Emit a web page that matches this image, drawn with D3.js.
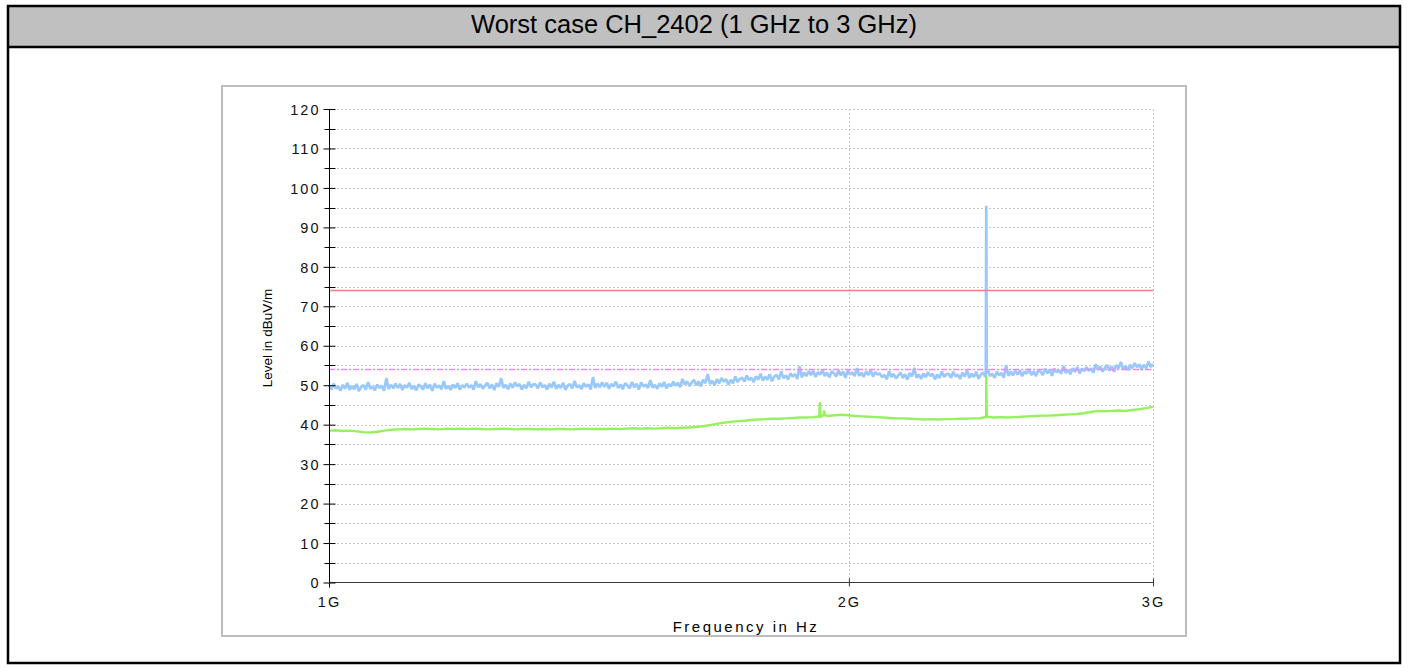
<!DOCTYPE html>
<html>
<head>
<meta charset="utf-8">
<script src="https://cdn.jsdelivr.net/npm/d3@7"></script>
<style>
  html, body { margin: 0; padding: 0; background: #fff; }
  svg { display: block; }
</style>
</head>
<body>
<svg id="chart" width="1408" height="668"></svg>
<script>
// ---------------- DATA ----------------
const chartTitle = "Worst case CH_2402 (1 GHz to 3 GHz)";
const yAxisTitle = "Level in dBuV/m";
const xAxisTitle = "Frequency in Hz";

const sweepStartHz = 1e9;
const sweepStopHz = 3e9;

const yTickValues = [0, 10, 20, 30, 40, 50, 60, 70, 80, 90, 100, 110, 120];
const yMinorTickValues = [5, 15, 25, 35, 45, 55, 65, 75, 85, 95, 105, 115];
const xTickValues = [1e9, 2e9, 3e9];
const xTickLabels = ["1G", "2G", "3G"];

const limitPeak = 74;      // red limit line
const limitAverage = 54;   // magenta dash-dot limit line

// Peak trace (blue), sampled over the sweep
const peakLevels = [
  49.9, 48.9, 50.4, 49.2, 49.7, 48.6, 50.1, 49.1, 50.6, 48.8, 49.8, 49.0, 50.3, 48.5, 49.6, 50.0, 48.9, 50.8, 49.1, 49.7, 48.7, 50.2, 49.3, 49.9, 48.6, 51.8, 49.0, 50.1, 49.2, 50.4,
  49.3, 50.3, 48.8, 50.0, 49.4, 50.6, 49.0, 49.9, 48.7, 50.2, 49.7, 48.9, 50.5, 49.2, 50.1, 48.6, 50.4, 49.4, 49.9, 49.0, 51.0, 49.1, 49.8, 48.8, 50.2, 49.3, 50.5, 48.9, 50.0, 49.4,
  50.4, 49.4, 50.0, 48.9, 51.0, 49.5, 50.3, 49.1, 49.9, 50.6, 49.2, 50.2, 48.8, 50.5, 49.6, 51.8, 49.3, 50.1, 49.0, 50.4, 49.4, 50.7, 49.7, 50.3, 48.9, 50.1, 49.2, 50.9, 49.5, 50.2,
  50.2, 49.2, 50.7, 49.5, 50.0, 48.9, 50.4, 49.4, 50.9, 49.1, 50.1, 49.3, 50.6, 48.8, 49.9, 50.3, 49.2, 51.1, 49.4, 50.0, 49.0, 50.5, 49.6, 50.2, 48.9, 52.1, 49.3, 50.4, 49.5, 50.7,
  49.6, 50.6, 49.1, 50.3, 49.7, 50.9, 49.3, 50.2, 49.0, 50.5, 50.0, 49.2, 50.8, 49.5, 50.4, 48.9, 50.7, 49.7, 50.2, 49.3, 51.3, 49.4, 50.1, 49.1, 50.5, 49.6, 50.8, 49.2, 50.3, 49.7,
  50.9, 49.9, 50.6, 49.5, 51.6, 50.2, 51.0, 49.8, 50.6, 51.4, 50.0, 51.0, 49.7, 51.4, 50.5, 52.8, 50.3, 51.1, 50.0, 51.5, 50.5, 51.8, 50.9, 51.5, 50.1, 51.4, 50.5, 52.2, 50.8, 51.6,
  51.9, 50.9, 52.5, 51.3, 51.9, 50.8, 52.3, 51.4, 52.9, 51.2, 52.2, 51.4, 52.8, 51.0, 52.2, 52.6, 51.5, 53.5, 51.8, 52.5, 51.5, 53.0, 52.2, 52.8, 51.6, 54.8, 52.0, 53.2, 52.3, 53.6,
  52.6, 53.6, 52.1, 53.3, 52.7, 53.9, 52.3, 53.2, 52.0, 53.5, 53.0, 52.2, 53.8, 52.5, 53.4, 51.9, 53.7, 52.7, 53.2, 52.3, 54.3, 52.4, 53.1, 52.1, 53.5, 52.6, 53.8, 52.2, 53.3, 52.7,
  53.0, 52.0, 52.6, 51.5, 53.6, 52.1, 52.9, 51.7, 52.5, 53.2, 51.8, 52.8, 51.4, 53.1, 52.2, 54.4, 51.9, 52.7, 51.6, 53.0, 52.0, 53.3, 52.3, 52.9, 51.5, 52.7, 51.8, 53.5, 52.1, 52.8,
  52.9, 51.9, 53.4, 52.2, 52.7, 51.6, 53.2, 52.2, 53.7, 51.9, 52.9, 52.1, 53.4, 51.6, 52.7, 53.2, 52.1, 54.0, 52.3, 52.9, 51.9, 53.4, 52.5, 53.1, 51.9, 55.1, 52.4, 53.4, 52.5, 53.7,
  52.7, 53.7, 52.3, 53.5, 52.9, 54.1, 52.6, 53.5, 52.3, 53.8, 53.4, 52.6, 54.2, 53.0, 53.9, 52.4, 54.2, 53.3, 53.8, 52.9, 54.9, 53.1, 53.8, 52.8, 54.3, 53.4, 54.6, 53.0, 54.2, 53.6,
  54.6, 53.6, 54.3, 53.2, 55.3, 53.9, 54.7, 53.5, 54.4, 55.1, 53.7, 54.8, 53.4, 55.1, 54.3, 55.9, 54.0, 54.9, 53.8, 55.2, 54.3, 55.6, 54.6, 55.3, 53.9, 55.2, 54.3, 56.0, 54.6, 55.4
];
// Discrete peaks on the blue trace: [frequency Hz, level]
const peakSpikes = [
  [2.4005e9, 52.6], [2.402e9, 95.5], [2.4035e9, 53.0]
];

// Average trace (green), sampled over the sweep
const averageLevels = [
  38.5, 38.6, 38.4, 38.5, 38.3, 38.1, 38.0, 38.2, 38.5, 38.7,
  38.8, 38.9, 38.8, 38.9, 39.0, 38.9, 38.8, 39.0, 38.9, 39.0,
  38.9, 39.0, 38.9, 38.8, 38.9, 39.0, 38.9, 38.8, 38.9, 38.9,
  38.8, 38.9, 38.8, 38.9, 38.9, 38.8, 38.9, 39.0, 38.9, 38.9,
  38.9, 39.0, 38.9, 39.0, 39.1, 39.0, 39.1, 39.0, 39.1, 39.2,
  39.1, 39.2, 39.3, 39.4, 39.6, 39.9, 40.2, 40.5, 40.7, 40.9,
  41.0, 41.2, 41.3, 41.4, 41.5, 41.5, 41.6, 41.7, 41.8, 41.8,
  41.9, 42.0, 42.2, 42.4, 42.5, 42.4, 42.2, 42.1, 42.0, 41.9,
  41.8, 41.7, 41.6, 41.6, 41.5, 41.4, 41.3, 41.4, 41.3, 41.4,
  41.4, 41.5, 41.5, 41.6, 41.6, 41.7, 41.8, 41.9, 41.8, 41.9,
  42.0, 42.1, 42.2, 42.3, 42.3, 42.4, 42.5, 42.6, 42.7, 42.9,
  43.2, 43.5, 43.4, 43.5, 43.6, 43.5, 43.7, 43.9, 44.2, 44.5
];
const averageSpikes = [
  [1.9225e9, 42.1], [1.924e9, 45.7], [1.9255e9, 42.2], [1.934e9, 42.4], [1.935e9, 43.6], [1.936e9, 42.5],
  [2.4015e9, 42.0], [2.402e9, 52.3], [2.4035e9, 44.0], [2.405e9, 42.0]
];

// ---------------- HELPERS ----------------
function sweepSeries(levels, spikes) {
  const n = levels.length;
  const logA = Math.log(sweepStartHz), logB = Math.log(sweepStopHz);
  const pts = levels.map((v, i) => [Math.exp(logA + (logB - logA) * i / (n - 1)), v]);
  const all = pts.concat(spikes);
  all.sort((a, b) => a[0] - b[0]);
  return all;
}

// ---------------- DRAW ----------------
const svg = d3.select("#chart");

// Outer frame
const frame = { x: 8, y: 6, w: 1392, h: 657, barH: 41 };
svg.append("rect")
  .attr("x", frame.x).attr("y", frame.y).attr("width", frame.w).attr("height", frame.barH)
  .attr("fill", "#c0c0c0");
svg.append("rect")
  .attr("x", frame.x).attr("y", frame.y).attr("width", frame.w).attr("height", frame.h)
  .attr("fill", "none").attr("stroke", "#000").attr("stroke-width", 2.5);
svg.append("line")
  .attr("x1", frame.x).attr("x2", frame.x + frame.w)
  .attr("y1", frame.y + frame.barH).attr("y2", frame.y + frame.barH)
  .attr("stroke", "#000").attr("stroke-width", 2.5);
svg.append("text")
  .attr("x", 694).attr("y", 24)
  .attr("dy", "0.36em")
  .attr("text-anchor", "middle")
  .attr("font-family", "Liberation Sans, Arial, sans-serif")
  .attr("font-size", 25.5)
  .attr("fill", "#000")
  .text(chartTitle);

// Inner panel
const panel = { x: 222, y: 86, w: 964, h: 550 };
svg.append("defs").append("clipPath").attr("id", "panelClip")
  .append("rect").attr("x", panel.x).attr("y", panel.y).attr("width", panel.w).attr("height", panel.h);
svg.append("rect")
  .attr("x", panel.x).attr("y", panel.y).attr("width", panel.w).attr("height", panel.h)
  .attr("fill", "#fff").attr("stroke", "#bdbdbd").attr("stroke-width", 2);

const plot = { left: 329, right: 1153, top: 109, bottom: 582.5 };
const x = d3.scaleLog().domain([sweepStartHz, sweepStopHz]).range([plot.left, plot.right]);
const y = d3.scaleLinear().domain([0, 120]).range([plot.bottom, plot.top]);

const g = svg.append("g");

// Horizontal grid (every 5 units)
const gridVals = yTickValues.concat(yMinorTickValues).filter(v => v > 0);
g.append("g").selectAll("line").data(gridVals).join("line")
  .attr("x1", plot.left).attr("x2", plot.right)
  .attr("y1", d => Math.round(y(d)) + 0.5).attr("y2", d => Math.round(y(d)) + 0.5)
  .attr("stroke", "#c8c8c8").attr("stroke-width", 1).attr("stroke-dasharray", "2,2");
// Vertical grid
g.append("g").selectAll("line").data(xTickValues.slice(1)).join("line")
  .attr("x1", d => Math.round(x(d)) + 0.5).attr("x2", d => Math.round(x(d)) + 0.5)
  .attr("y1", plot.top).attr("y2", plot.bottom)
  .attr("stroke", "#c8c8c8").attr("stroke-width", 1).attr("stroke-dasharray", "2,2");

// Traces
const line = d3.line().x(d => x(d[0])).y(d => y(d[1]));
const clipG = g.append("g").attr("clip-path", "url(#panelClip)");
clipG.append("path")
  .datum(sweepSeries(peakLevels, peakSpikes))
  .attr("d", line).attr("fill", "none")
  .attr("stroke", "#99c9fb").attr("stroke-width", 2.7).attr("stroke-linejoin", "bevel");
clipG.append("path")
  .datum(sweepSeries(averageLevels, averageSpikes))
  .attr("d", line).attr("fill", "none")
  .attr("stroke", "#96f060").attr("stroke-width", 2.4);

// Limit lines
clipG.append("line")
  .attr("x1", x(sweepStartHz)).attr("x2", x(sweepStopHz))
  .attr("y1", y(limitPeak)).attr("y2", y(limitPeak))
  .attr("stroke", "#f08080").attr("stroke-width", 1.5);
clipG.append("line")
  .attr("x1", x(sweepStartHz)).attr("x2", x(sweepStopHz))
  .attr("y1", y(limitAverage)).attr("y2", y(limitAverage))
  .attr("stroke", "#ff80ff").attr("stroke-width", 1.6)
  .attr("stroke-dasharray", "6,2,2,2");

// X axis
const xAxis = d3.axisBottom(x).tickValues(xTickValues).tickFormat((d, i) => xTickLabels[i]).tickSize(4).tickSizeOuter(0);
const xg = g.append("g").attr("transform", `translate(0,${Math.round(plot.bottom) - 0.5})`).call(xAxis);
xg.select(".domain").attr("stroke", "#3a3a3a").attr("d", `M${plot.left},0H${plot.right}`);
xg.selectAll(".tick line").attr("stroke", "#3a3a3a").attr("y1", -4).attr("y2", 4);
xg.selectAll(".tick text")
  .attr("y", 20).attr("dy", "0.32em")
  .attr("font-family", "Liberation Sans, Arial, sans-serif")
  .attr("font-size", 14.5)
  .attr("letter-spacing", "2px")
  .attr("fill", "#111");

// Y axis
const yAxis = d3.axisLeft(y).tickValues(yTickValues).tickSize(6).tickSizeOuter(0).tickFormat(d3.format("d"));
const yg = g.append("g").attr("transform", `translate(${plot.left + 0.5},0)`).call(yAxis);
yg.select(".domain").attr("stroke", "#000").attr("d", `M0,${plot.top}V${plot.bottom + 5}`);
yg.selectAll(".tick line").attr("stroke", "#000").attr("x1", -6).attr("x2", 6);
yg.selectAll(".tick text")
  .attr("x", -9).attr("dy", "0.36em")
  .attr("font-family", "Liberation Sans, Arial, sans-serif")
  .attr("font-size", 14.5)
  .attr("letter-spacing", "2px")
  .attr("fill", "#111");
// Minor ticks
yg.append("g").selectAll("line").data(yMinorTickValues).join("line")
  .attr("x1", -5).attr("x2", 6)
  .attr("y1", d => Math.round(y(d)) + 0.5).attr("y2", d => Math.round(y(d)) + 0.5)
  .attr("stroke", "#000");

// Axis titles
svg.append("text")
  .attr("transform", `translate(272,${338}) rotate(-90)`)
  .attr("text-anchor", "middle")
  .attr("font-family", "Liberation Sans, Arial, sans-serif")
  .attr("font-size", 13.5)
  .attr("fill", "#000")
  .text(yAxisTitle);
svg.append("text")
  .attr("clip-path", "url(#panelClip)")
  .attr("x", 746).attr("y", 632)
  .attr("text-anchor", "middle")
  .attr("font-family", "Liberation Sans, Arial, sans-serif")
  .attr("font-size", 15)
  .attr("letter-spacing", "2.5px")
  .attr("fill", "#000")
  .text(xAxisTitle);
// Redraw panel border on top so title descenders are cut
svg.append("rect")
  .attr("x", panel.x).attr("y", panel.y).attr("width", panel.w).attr("height", panel.h)
  .attr("fill", "none").attr("stroke", "#bdbdbd").attr("stroke-width", 2);
</script>
</body>
</html>
